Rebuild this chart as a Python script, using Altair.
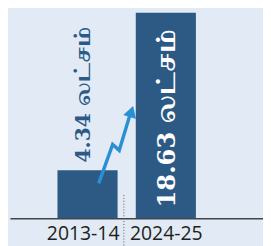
import altair as alt
import pandas as pd

years = ["2013-14", "2024-25"]
positions = [0, 1]
values = [4.34, 18.63]
labels = ["4.34 லட்சம்", "18.63 லட்சம்"]

# decorative arrow path (x in category-position units, y in value units)
arrow_x = [0.143, 0.321, 0.405, 0.536]
arrow_y = [3.16, 6.68, 6.15, 9.23]
arrow_head_x = [0.56]
arrow_head_y = [9.67]

# dotted divider between the two categories
divider_x = [0.464]
divider_y = [2.11, -2.6]

bars_df = pd.DataFrame({"pos": positions, "year": years, "value": values, "label": labels})
arrow_df = pd.DataFrame({"ax": arrow_x, "ay": arrow_y, "order": list(range(len(arrow_x)))})
head_df = pd.DataFrame({"ax": arrow_head_x, "ay": arrow_head_y})
rule_df = pd.DataFrame({"rx": divider_x, "y1": [divider_y[0]], "y2": [divider_y[1]]})

BAR = "#2c5a85"
BG = "#e1eaf5"
ARROW = "#2a8fd3"
TAMIL_FONT = "DejaVu Serif, Noto Serif Tamil, Noto Sans Tamil, Lohit Tamil, serif"

label_expr = " : ".join(
    [f"datum.value == {p} ? '{y}'" for p, y in zip(positions[:-1], years[:-1])] + [f"'{years[-1]}'"]
)

xscale = alt.Scale(domain=[-0.929, 2.179], nice=False, zero=False)
xaxis = alt.Axis(
    title=None, values=positions, labelExpr=label_expr, grid=False, ticks=False,
    domainColor="#444444", domainWidth=1.5, labelFont="Open Sans", labelFontSize=20,
    labelColor="#231f20", labelPadding=6, labelFlush=False, labelOverlap=False,
    labelOffset=alt.expr("datum.value == 0 ? -5 : 0"),
)
yscale = alt.Scale(domain=[0, 18.45], nice=False, zero=True)

bars = alt.Chart(bars_df).mark_bar(color=BAR, size=62).encode(
    x=alt.X("pos:Q", scale=xscale, axis=xaxis),
    y=alt.Y("value:Q", scale=yscale, axis=None),
)

text1 = alt.Chart(bars_df.iloc[[0]]).mark_text(
    angle=270, align="left", baseline="middle", dx=8, dy=-3,
    font=TAMIL_FONT, fontWeight="bold", fontSize=21, color=BAR,
).encode(x="pos:Q", y="value:Q", text="label:N")

text2 = alt.Chart(bars_df.iloc[[1]]).mark_text(
    angle=270, align="left", baseline="middle", dx=11, dy=1,
    font=TAMIL_FONT, fontWeight="bold", fontSize=25, color="white",
).encode(x="pos:Q", y=alt.datum(0), text="label:N")

rule = alt.Chart(rule_df).mark_rule(
    color="#555555", strokeDash=[1, 2], strokeWidth=1
).encode(x="rx:Q", y="y1:Q", y2="y2:Q")

arrow = alt.Chart(arrow_df).mark_line(color=ARROW, strokeWidth=3.5, strokeJoin="miter").encode(
    x="ax:Q", y="ay:Q", order="order:Q",
)
head = alt.Chart(head_df).mark_point(
    shape="triangle-up", filled=True, color=ARROW, opacity=1, size=190, angle=18
).encode(x="ax:Q", y="ay:Q")

chart = (
    alt.layer(bars, text1, text2, rule, arrow, head)
    .properties(
        width=261, height=210, background=BG,
        padding={"left": 2, "top": 0, "right": 0, "bottom": 0},
    )
    .configure_view(stroke=None)
)

chart.save("out.html", embed_options={"renderer": "svg", "actions": False})
